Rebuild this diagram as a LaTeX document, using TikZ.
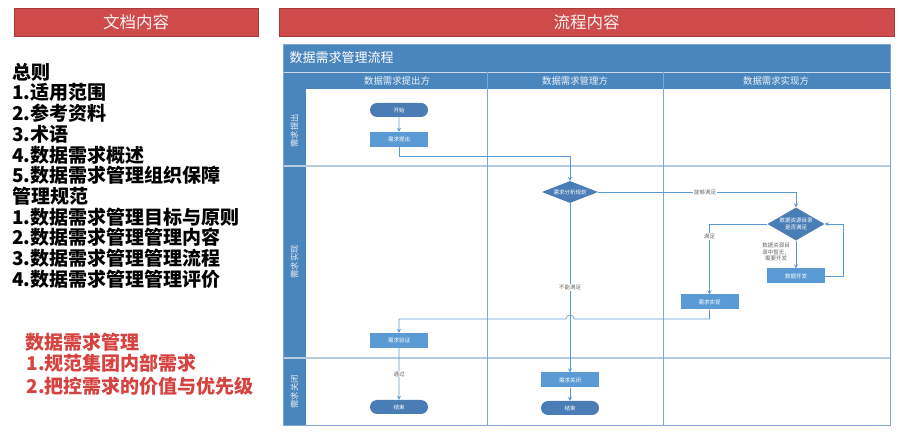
\documentclass[tikz,border=0pt]{standalone}
\usepackage{fontspec}
\newfontfamily\cjk{Noto Sans CJK SC}
\usepackage{tikz}
\usetikzlibrary{arrows.meta,shapes.geometric,shapes.misc,positioning}

\definecolor{flowblue}{HTML}{4A86BE}
\definecolor{boxblue}{HTML}{5B9BD5}
\definecolor{darkbox}{HTML}{4A7DB5}
\definecolor{lineblue}{HTML}{5B9BD5}
\definecolor{gridline}{HTML}{7FA7CF}
\definecolor{lanegrey}{HTML}{B4CBE2}
\definecolor{hdred}{HTML}{CF4B4B}
\definecolor{hdborder}{HTML}{A83A3A}
\definecolor{notered}{HTML}{D5423F}

\tikzset{
  headbox/.style={draw=hdborder, line width=0.8pt, fill=hdred, text=white!92!hdred,
    font=\cjk\fontsize{16.5}{18}\selectfont},
  doctext/.style={anchor=west, inner sep=0pt, font=\cjk\bfseries\fontsize{19}{21}\selectfont},
  notetext/.style={doctext, text=notered},
  procbox/.style={rectangle, fill=boxblue, minimum width=58pt, minimum height=15pt,
    inner sep=0pt, text=white, font=\cjk\fontsize{5.5}{6.5}\selectfont},
  termbox/.style={rounded rectangle, fill=darkbox, minimum width=58pt, minimum height=14pt,
    inner sep=0pt, text=white, font=\cjk\fontsize{5.5}{6.5}\selectfont},
  decbox/.style={diamond, fill=darkbox, inner sep=0pt, text=white, align=center,
    font=\cjk\fontsize{5.5}{6.5}\selectfont},
  flow/.style={draw=lineblue, line width=0.6pt, -{Stealth[length=4pt,width=4pt]}},
  flowlabel/.style={fill=white, inner sep=1pt, text=black!60, align=center,
    font=\cjk\fontsize{5.5}{6.5}\selectfont},
  lanelabel/.style={rotate=90, text=white!88!flowblue, font=\cjk\fontsize{8.3}{9}\selectfont},
  colhead/.style={text=white!90!flowblue, font=\cjk\fontsize{9.4}{10}\selectfont}
}

\begin{document}
\begin{tikzpicture}[x=1pt, y=-1pt]
  \useasboundingbox (0,0) rectangle (900,435);

  %%%%% headers %%%%%
  \node[headbox, minimum width=244pt, minimum height=28pt] (dochead) at (136,22) {文档内容};
  \node[headbox, minimum width=615pt, minimum height=28pt] (flowhead) at (586.5,22) {流程内容};

  %%%%% document outline %%%%%
  \foreach \txt [count=\i] in {总则, 1.适用范围, 2.参考资料, 3.术语, 4.数据需求概述,
      5.数据需求管理组织保障, 管理规范, 1.数据需求管理目标与原则, 2.数据需求管理管理内容,
      3.数据需求管理管理流程, 4.数据需求管理管理评价}
    \node[doctext] (doc\i) at (12, {72+20.7*(\i-1)}) {\txt};

  \node[notetext] (note1) at (25,342) {数据需求管理};
  \node[notetext] (note2) at (26.5,363.5) {1.规范集团内部需求};
  \node[notetext] (note3) at (26.5,386) {2.把控需求的价值与优先级};

  %%%%% swimlane frame %%%%%
  \fill[flowblue] (283,44) rectangle (890,89);
  \fill[flowblue] (283,89) rectangle (306,425);
  \draw[white!70!flowblue, line width=0.4pt] (283,72) -- (890,72);
  \draw[lanegrey, line width=1.2pt] (283,166) -- (890,166);
  \draw[lanegrey, line width=1.2pt] (283,358) -- (890,358);
  \draw[gridline, line width=0.7pt] (487,72) -- (487,425);
  \draw[gridline, line width=0.7pt] (663,72) -- (663,425);
  \draw[gridline, line width=0.7pt] (283,44) rectangle (890,425);

  \node[anchor=west, text=white, font=\cjk\fontsize{13}{14}\selectfont] (title) at (286,58) {数据需求管理流程};
  \node[colhead] (colA) at (397,80.5) {数据需求提出方};
  \node[colhead] (colB) at (575,80.5) {数据需求管理方};
  \node[colhead] (colC) at (776,80.5) {数据需求实现方};

  \node[lanelabel] (laneA) at (294.5,131) {需求提出};
  \node[lanelabel] (laneB) at (294.5,262) {需求实现};
  \node[lanelabel] (laneC) at (294.5,392) {需求关闭};

  %%%%% flow nodes %%%%%
  \node[termbox] (start) at (399,110) {开始};
  \node[procbox] (ask) at (399,139.5) {需求提出};
  \node[decbox, aspect=2.5, minimum width=56pt, minimum height=22pt] (plan) at (570,192) {需求分析规划};
  \node[decbox, aspect=1.7, minimum width=57pt, minimum height=33pt] (check) at (796,224) {数据资源目录\\是否满足};
  \node[procbox] (dev) at (796,276) {数据开发};
  \node[procbox] (impl) at (709.5,302) {需求实现};
  \node[procbox] (verify) at (399,340.5) {需求验证};
  \node[procbox] (close) at (570,380) {需求关闭};
  \node[termbox] (endA) at (399,407) {结束};
  \node[termbox] (endB) at (570,408) {结束};
  \coordinate (hop) at (574,319);

  %%%%% connectors %%%%%
  \draw[flow] (start) -- (ask);
  \draw[flow] (ask.south) -- ++(0,9) -| (plan.north);
  \draw[flow] (plan.east) -| node[flowlabel, pos=0.27] (lblA) {能够满足} (check.north);
  \draw[flow] (check.west) -| node[flowlabel, pos=0.59] (lblB) {满足} (impl.north);
  \draw[flow] (check.south) -- (dev.north);
  \node[flowlabel, fill=none, anchor=east] (lblC) at (791,252) {数据资源目\\录中暂无，\\需要开发};
  \draw[flow] (dev.east) -- ++(18,0) |- (check.east);
  \draw[flow] (impl.south) |- (hop) arc[start angle=0, end angle=-180, radius=4] -| (verify.north);
  \draw[flow] (plan.south) -- node[flowlabel] (lblD) {不能满足} (close.north);
  \draw[flow] (close) -- (endB);
  \draw[flow] (verify) -- node[flowlabel] (lblE) {通过} (endA);
\end{tikzpicture}
\end{document}
